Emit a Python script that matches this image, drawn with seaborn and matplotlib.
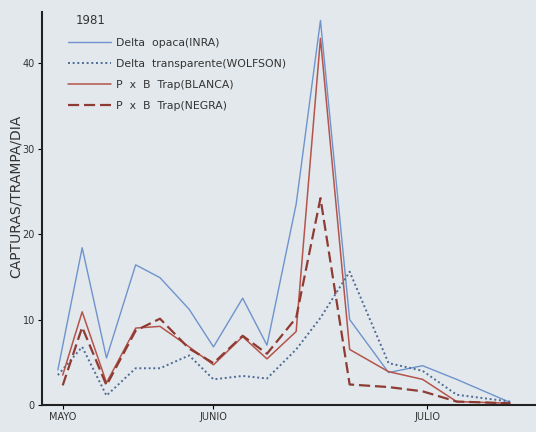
import matplotlib
matplotlib.use("Agg")
import matplotlib.pyplot as plt
import seaborn as sns
import pandas as pd

# ---- data ----
dias = [-1, 4, 9, 15, 20, 26, 31, 37, 42, 48, 53, 59, 67, 74, 81, 92]
dias_trampa = [0, 4, 9, 15, 20, 26, 31, 37, 42, 48, 53, 59, 67, 74, 81, 92]
delta_opaca = [4.1, 18.4, 5.5, 16.4, 14.9, 11.2, 6.8, 12.5, 7.0, 23.5, 45.0, 10.0, 3.8, 4.6, 3.0, 0.3]
delta_transp = [3.5, 6.8, 1.1, 4.3, 4.3, 5.8, 3.0, 3.4, 3.1, 6.5, 10.2, 15.6, 4.9, 4.0, 1.2, 0.4]
pxb_blanca = [3.5, 10.9, 2.6, 9.0, 9.2, 6.8, 4.7, 8.0, 5.4, 8.6, 42.9, 6.5, 3.9, 3.0, 0.4, 0.2]
pxb_negra = [2.3, 9.1, 2.3, 8.7, 10.1, 6.6, 4.9, 8.1, 6.0, 10.2, 24.2, 2.4, 2.1, 1.6, 0.4, 0.2]

series_names = ["Delta  opaca(INRA)", "Delta  transparente(WOLFSON)",
                "P  x  B  Trap(BLANCA)", "P  x  B  Trap(NEGRA)"]
tick_pos = [0, 31, 75]
tick_labels = ["MAYO", "JUNIO", "JULIO"]

rows = []
for name, xs, ys in [(series_names[0], dias, delta_opaca),
                     (series_names[1], dias, delta_transp),
                     (series_names[2], dias_trampa, pxb_blanca),
                     (series_names[3], dias_trampa, pxb_negra)]:
    for x, y in zip(xs, ys):
        rows.append({"dia": x, "capturas": y, "serie": name})
df = pd.DataFrame(rows)

bg = "#e3e8ec"
sns.set_theme(style="ticks")
plt.rcParams["font.family"] = ["DejaVu Sans"]

fig = plt.figure(figsize=(5.36, 4.32), dpi=100, facecolor=bg)
ax = fig.add_axes([0.078, 0.0625, 0.92, 0.91])
ax.set_facecolor(bg)

palette = {series_names[0]: "#6f93cc", series_names[1]: "#4d6b94",
           series_names[2]: "#b4544b", series_names[3]: "#8e3b34"}
dashes = {series_names[0]: "", series_names[1]: (1, 1.4),
          series_names[2]: "", series_names[3]: (5, 2.2)}
sns.lineplot(data=df, x="dia", y="capturas", hue="serie", style="serie",
             palette=palette, dashes=dashes, hue_order=series_names,
             style_order=series_names, ax=ax, sort=False, legend=True)
widths = [1.0, 1.4, 1.1, 1.6]
for line, w in zip(ax.get_lines()[:4], widths):
    line.set_linewidth(w)

ax.set_xlim(-4.3, 97.1)
ax.set_ylim(0, 46)
ax.set_yticks([0, 10, 20, 30, 40])
ax.set_xticks(tick_pos)
ax.set_xticklabels(tick_labels)
ax.tick_params(axis="both", labelsize=7, length=3, width=0.8, color="black",
               labelcolor="#333333", pad=2)
ax.set_xlabel("")
ax.set_ylabel("CAPTURAS/TRAMPA/DIA", fontsize=10, color="#333333")
ax.yaxis.set_label_coords(-0.039, 0.53)
for s in ["top", "right"]:
    ax.spines[s].set_visible(False)
for s in ["left", "bottom"]:
    ax.spines[s].set_color("#222222")
    ax.spines[s].set_linewidth(1.5)

handles, labels = ax.get_legend_handles_labels()
for h, w in zip(handles, widths):
    h.set_linewidth(w)
leg = ax.legend(handles, labels, loc="upper left", bbox_to_anchor=(0.118, 0.922),
                bbox_transform=fig.transFigure, frameon=False, fontsize=7.8,
                handlelength=4.0, handletextpad=0.5, labelspacing=1.0,
                borderaxespad=0)
for t in leg.get_texts():
    t.set_color("#333333")
fig.text(0.142, 0.953, "1981", fontsize=8.5, color="#333333", va="center")

fig.savefig("out.png", dpi=100, facecolor=bg)
